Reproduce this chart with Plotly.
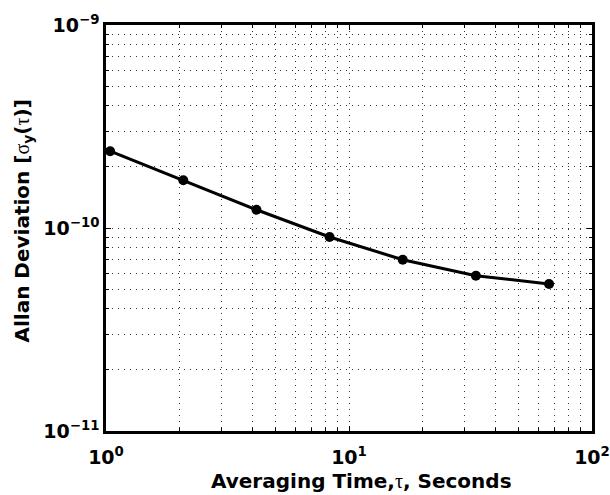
import plotly.graph_objects as go

tau = [1.04, 2.08, 4.16, 8.32, 16.64, 33.28, 66.56]
adev = [2.39e-10, 1.72e-10, 1.23e-10, 9.03e-11, 6.98e-11, 5.82e-11, 5.30e-11]

x_tickvals = [1, 10, 100]
x_ticktext = ["<b>10<sup>0</sup></b>", "<b>10<sup>1</sup></b>", "<b>10<sup>2</sup></b>"]
y_tickvals = [1e-11, 1e-10, 1e-9]
y_ticktext = ["<b>10<sup>−11</sup></b>", "<b>10<sup>−10</sup></b>", "<b>10<sup>−9</sup></b>"]

x_title = "Averaging Time,{tau}, Seconds"
y_title = "Allan Deviation [{sigma}<sub>y</sub>({tau})]"

FONT = "DejaVu Sans"
grid_dash = "1px,5px"
SERIF = "<span style='font-family:Liberation Serif;font-weight:normal'>{}</span>"

fig = go.Figure()
fig.add_trace(go.Scatter(
    x=tau, y=adev, mode="lines+markers",
    line=dict(color="black", width=3),
    marker=dict(color="black", size=10),
    showlegend=False,
))

axis_common = dict(
    type="log", automargin=False,
    showline=True, linecolor="black", linewidth=2.5, mirror="allticks",
    ticks="inside", ticklen=5, tickcolor="black", tickwidth=1,
    showgrid=True, gridcolor="#333", gridwidth=1, griddash=grid_dash,
    zeroline=False,
    tickfont=dict(family=FONT, size=19, color="black"),
    minor=dict(ticks="inside", ticklen=3, tickcolor="black", showgrid=True,
               gridcolor="#333", gridwidth=1, griddash=grid_dash,
               dtick="D1"),
)

fig.update_layout(
    width=610, height=495,
    margin=dict(l=106, r=18, t=25, b=64),
    paper_bgcolor="white", plot_bgcolor="white",
    font=dict(family=FONT, color="black"),
    xaxis=dict(axis_common, range=[0, 2], ticklabelstandoff=7,
               tickvals=x_tickvals, ticktext=x_ticktext),
    yaxis=dict(axis_common, range=[-11, -9],
               tickvals=y_tickvals, ticktext=y_ticktext),
    annotations=[
        dict(text="<b>" + x_title.format(tau=SERIF.format("τ")) + "</b>",
             xref="paper", yref="paper", x=0.5247, y=-0.123,
             xanchor="center", yanchor="middle", showarrow=False,
             font=dict(family=FONT, size=20, color="black")),
        dict(text="<b>" + y_title.format(sigma=SERIF.format("σ"), tau=SERIF.format("τ")) + "</b>",
             xref="paper", yref="paper", x=-0.1728, y=0.516, textangle=-90,
             xanchor="center", yanchor="middle", showarrow=False,
             font=dict(family=FONT, size=20, color="black")),
    ],
)

fig.write_html("out.html")
